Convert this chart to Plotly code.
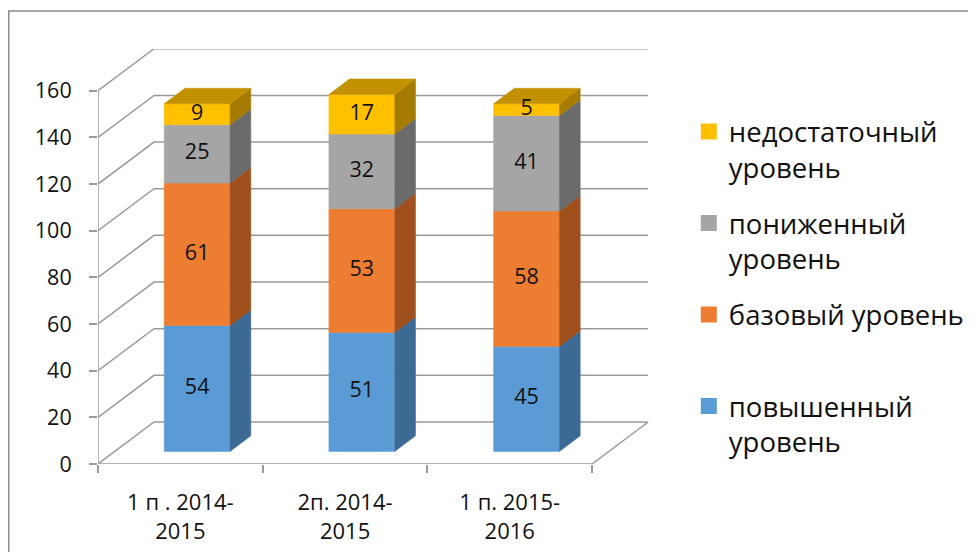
import plotly.graph_objects as go

# ---------------- data ----------------
categories = ["1 п . 2014-<br>2015", "2п. 2014-<br>2015", "1 п. 2015-<br>2016"]
povyshenny = [54, 51, 45]
bazovy = [61, 53, 58]
ponizhenny = [25, 32, 41]
nedostatochny = [9, 17, 5]
series_values = [povyshenny, bazovy, ponizhenny, nedostatochny]
legend_labels = ["повышенный<br>уровень", "базовый уровень<br> ",
                 "пониженный<br>уровень", "недостаточный<br>уровень"]
y_ticks = [0, 20, 40, 60, 80, 100, 120, 140, 160]

# ---------------- style ----------------
front_colors = ["#5B9BD5", "#ED7D31", "#A5A5A5", "#FFC000"]
side_colors = ["#3D6A94", "#9F501D", "#6B6B6B", "#A57C00"]
top_colors = ["#4A80B2", "#C2652A", "#8A8A8A", "#C39100"]
GRID = "#9A9A9A"
FONT = "Open Sans"
TXT = "#111111"

DX = 0.34     # depth offset of back wall, in category units
DY = 18.0     # depth offset of back wall, in value units
F0, F1 = 0.30, 0.67   # bar front / back depth fractions
BAR_W = 0.40

W, H = 960, 544
ML, MR, MT, MB = 90, 318, 41, 88
PW, PH = W - ML - MR, H - MT - MB
PX_PER_CAT = 164.7
PX_PER_UNIT = 2.333

n_cat = len(categories)
fig = go.Figure()

# grid (walls + floor)
gx, gy = [], []
for v in y_ticks:
    gx += [0, DX, n_cat + DX, None]
    gy += [v, v + DY, v + DY, None]
gx += [0, n_cat, n_cat + DX, None, 0, 0, None]
gy += [0, 0, DY, None, 0, y_ticks[-1], None]
fig.add_trace(go.Scatter(x=gx, y=gy, mode="lines", line=dict(color=GRID, width=1.5),
                         hoverinfo="skip", showlegend=False))

ox0, oy0 = F0 * DX, F0 * DY
ox1, oy1 = F1 * DX, F1 * DY

label_x = [[] for _ in series_values]
label_y = [[] for _ in series_values]
label_t = [[] for _ in series_values]

for i in range(n_cat):
    c = i + 0.5
    x0, x1 = c - BAR_W / 2, c + BAR_W / 2
    base = 0
    for s, vals in enumerate(series_values):
        v = vals[i]
        y0, y1 = base, base + v
        # front face
        fig.add_trace(go.Scatter(
            x=[x0 + ox0, x1 + ox0, x1 + ox0, x0 + ox0, x0 + ox0],
            y=[y0 + oy0, y0 + oy0, y1 + oy0, y1 + oy0, y0 + oy0],
            mode="lines", fill="toself", fillcolor=front_colors[s],
            line=dict(width=0.5, color=front_colors[s]), hoverinfo="skip", showlegend=False))
        # side face
        fig.add_trace(go.Scatter(
            x=[x1 + ox0, x1 + ox1, x1 + ox1, x1 + ox0, x1 + ox0],
            y=[y0 + oy0, y0 + oy1, y1 + oy1, y1 + oy0, y0 + oy0],
            mode="lines", fill="toself", fillcolor=side_colors[s],
            line=dict(width=0.5, color=side_colors[s]), hoverinfo="skip", showlegend=False))
        label_x[s].append(c + ox0)
        label_y[s].append((y0 + y1) / 2 + oy0)
        label_t[s].append(str(v))
        base = y1
    # top face
    top_s = len(series_values) - 1
    fig.add_trace(go.Scatter(
        x=[x0 + ox0, x0 + ox1, x1 + ox1, x1 + ox0, x0 + ox0],
        y=[base + oy0, base + oy1, base + oy1, base + oy0, base + oy0],
        mode="lines", fill="toself", fillcolor=top_colors[top_s],
        line=dict(width=0.5, color=top_colors[top_s]), hoverinfo="skip", showlegend=False))

# data labels
for s in range(len(series_values)):
    fig.add_trace(go.Scatter(x=label_x[s], y=label_y[s], text=label_t[s], mode="text",
                             textfont=dict(family=FONT, size=21.5, color=TXT),
                             hoverinfo="skip", showlegend=False))

# legend entries (top series first, like the reference)
for s in reversed(range(len(series_values))):
    fig.add_trace(go.Scatter(x=[None], y=[None], mode="markers", name=legend_labels[s],
                             legendgroup=f"g{s}",
                             marker=dict(symbol="square", size=16, color=front_colors[s])))

# invisible trace so xaxis2 (boundary tick marks) renders
fig.add_trace(go.Scatter(x=[None], y=[None], xaxis="x2", yaxis="y", showlegend=False,
                         hoverinfo="skip"))

xr = [0, PW / PX_PER_CAT]
fig.update_layout(
    width=W, height=H,
    margin=dict(l=ML, r=MR, t=MT, b=MB, autoexpand=False),
    paper_bgcolor="white", plot_bgcolor="white",
    font=dict(family=FONT, color=TXT),
    xaxis=dict(range=xr, tickvals=[i + 0.5 for i in range(n_cat)],
               ticktext=categories, ticks="", showgrid=False, zeroline=False,
               showline=False, tickfont=dict(size=22, color=TXT), ticklabelstandoff=23),
    xaxis2=dict(range=xr, overlaying="x", anchor="y", side="bottom",
                tickvals=list(range(n_cat + 1)), ticks="outside", ticklen=8, tickwidth=1.5,
                tickcolor=GRID, showticklabels=False, showgrid=False, zeroline=False,
                showline=False),
    yaxis=dict(range=[0, PH / PX_PER_UNIT], tickvals=y_ticks, ticks="outside", ticklen=8,
               tickwidth=1.5, tickcolor=GRID, showgrid=False, zeroline=False, showline=False,
               tickfont=dict(size=21.5, color=TXT), ticklabelstandoff=13),
    legend=dict(x=(680.8 - ML) / PW, y=(H - MB - 99) / PH, xanchor="left", yanchor="top",
                traceorder="grouped", tracegroupgap=17, valign="top",
                font=dict(family=FONT, size=27.5, color=TXT), bgcolor="rgba(0,0,0,0)"),
    shapes=[dict(type="rect", xref="paper", yref="paper",
                 x0=(0.75 - ML) / PW, x1=2.0,
                 y0=-0.5, y1=(H - MB - 3) / PH, line=dict(color="#8C8C8C", width=1.5),
                 fillcolor="rgba(0,0,0,0)", layer="below")],
    showlegend=True,
)

fig.write_html("out.html")
